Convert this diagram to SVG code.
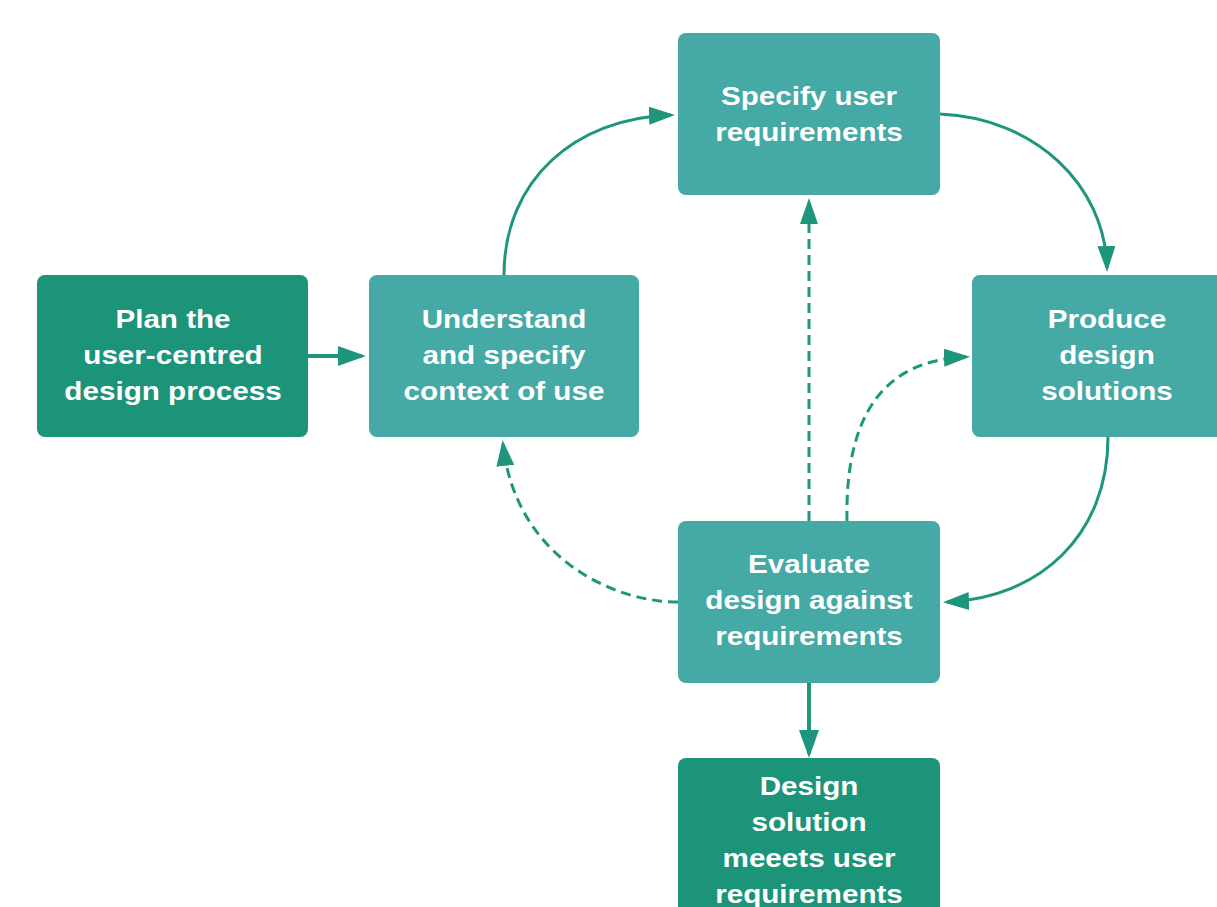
<svg xmlns="http://www.w3.org/2000/svg" width="1217" height="907" viewBox="0 0 1217 907">
<style>
.dark{fill:#1c9479}
.teal{fill:#45a9a6}
.lbl{font-family:"Liberation Sans",Arial,sans-serif;font-weight:bold;font-size:26px;fill:#ffffff;text-anchor:middle}
.c{fill:none;stroke:#1e967c;stroke-width:3}
.thick{stroke-width:4}
.dash{stroke-dasharray:10 6}
</style>
<defs>
<marker id="ah" markerUnits="userSpaceOnUse" markerWidth="26" markerHeight="18" viewBox="0 0 26 18" refX="22" refY="9" orient="auto">
<path d="M0,0 L26,9 L0,18 z" fill="#1e967c"/>
</marker>
<marker id="ahb" markerUnits="userSpaceOnUse" markerWidth="28" markerHeight="20" viewBox="0 0 28 20" refX="24" refY="10" orient="auto">
<path d="M0,0 L28,10 L0,20 z" fill="#1e967c"/>
</marker>
</defs>
<rect width="1217" height="907" fill="#ffffff"/>
<g id="connectors">
<path class="c thick" d="M308,356 L362,356" marker-end="url(#ahb)"/>
<path class="c" d="M504,275 C504,180 575,118 671,115" marker-end="url(#ah)"/>
<path class="c" d="M940,114 C1035,118 1105,185 1107,268" marker-end="url(#ah)"/>
<path class="c" d="M1108,437 C1108,535 1040,598 947,602" marker-end="url(#ah)"/>
<path class="c dash" d="M678,602 C610,602 515,555 503,444" marker-end="url(#ah)"/>
<path class="c dash" d="M809,521 L809,202" marker-end="url(#ah)"/>
<path class="c dash" d="M847,521 C845,420 880,360 966,357" marker-end="url(#ah)"/>
<path class="c thick" d="M809,683 L809,754" marker-end="url(#ahb)"/>
</g>
<g id="plan">
<rect class="dark" x="37" y="275" width="271" height="162" rx="8"/>
<g transform="translate(173 0) scale(1.14 1)">
<text class="lbl" x="0" y="328">Plan the</text>
<text class="lbl" x="0" y="364">user-centred</text>
<text class="lbl" x="0" y="400">design process</text>
</g>
</g>
<g id="understand">
<rect class="teal" x="369" y="275" width="270" height="162" rx="8"/>
<g transform="translate(504 0) scale(1.14 1)">
<text class="lbl" x="0" y="328">Understand</text>
<text class="lbl" x="0" y="364">and specify</text>
<text class="lbl" x="0" y="400">context of use</text>
</g>
</g>
<g id="specify">
<rect class="teal" x="678" y="33" width="262" height="162" rx="8"/>
<g transform="translate(809 0) scale(1.14 1)">
<text class="lbl" x="0" y="105">Specify user</text>
<text class="lbl" x="0" y="141">requirements</text>
</g>
</g>
<g id="produce">
<rect class="teal" x="972" y="275" width="272" height="162" rx="8"/>
<g transform="translate(1107 0) scale(1.14 1)">
<text class="lbl" x="0" y="328">Produce</text>
<text class="lbl" x="0" y="364">design</text>
<text class="lbl" x="0" y="400">solutions</text>
</g>
</g>
<g id="evaluate">
<rect class="teal" x="678" y="521" width="262" height="162" rx="8"/>
<g transform="translate(809 0) scale(1.14 1)">
<text class="lbl" x="0" y="573">Evaluate</text>
<text class="lbl" x="0" y="609">design against</text>
<text class="lbl" x="0" y="645">requirements</text>
</g>
</g>
<g id="solution">
<rect class="dark" x="678" y="758" width="262" height="200" rx="8"/>
<g transform="translate(809 0) scale(1.14 1)">
<text class="lbl" x="0" y="795">Design</text>
<text class="lbl" x="0" y="831">solution</text>
<text class="lbl" x="0" y="867">meeets user</text>
<text class="lbl" x="0" y="903">requirements</text>
</g>
</g>
</svg>
